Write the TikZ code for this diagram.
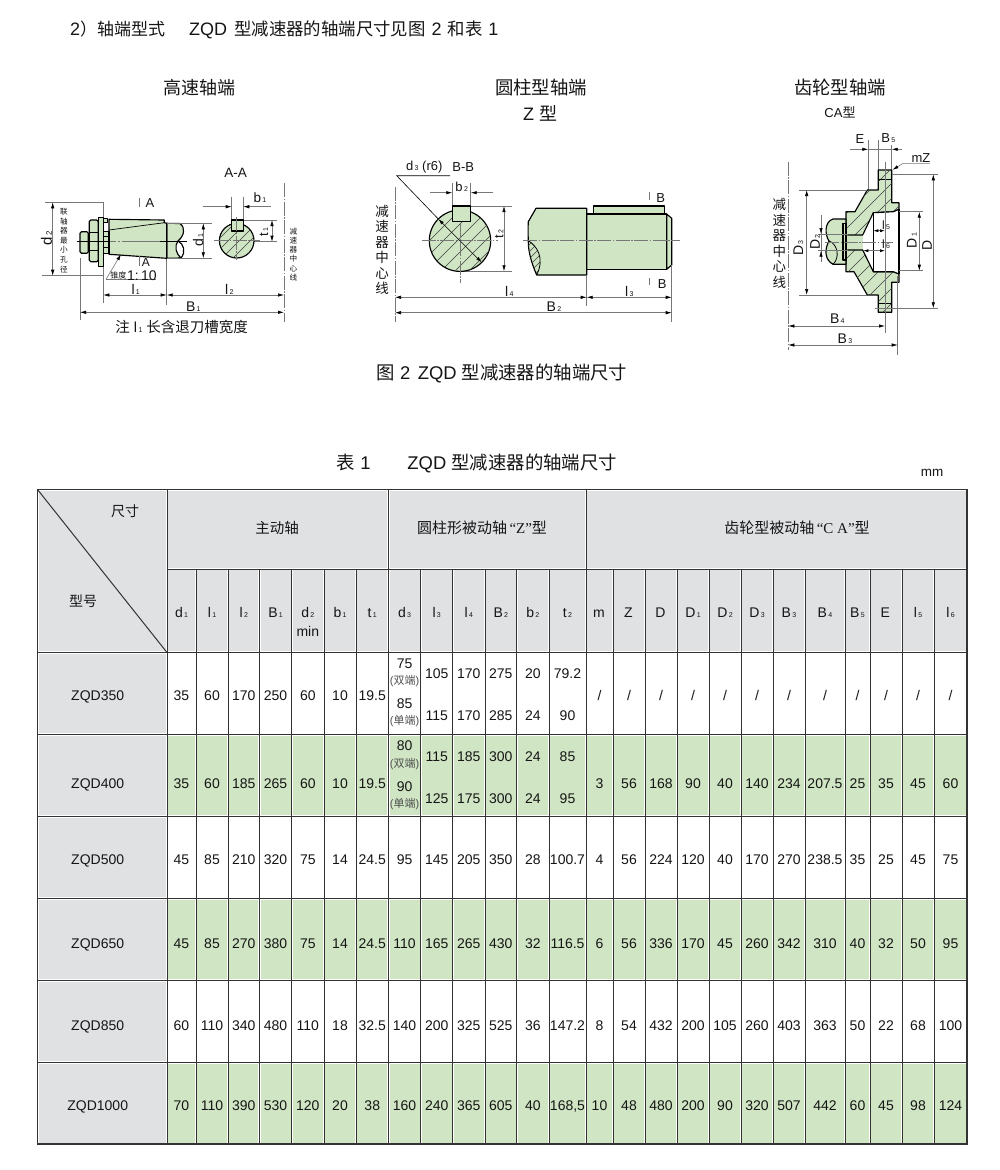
\documentclass[tikz,border=0pt]{standalone}
\usepackage{fontspec}
\setmainfont{Liberation Sans}
\newfontfamily\cjk{Noto Sans CJK SC}
\newfontfamily\serifl{Liberation Serif}
\usetikzlibrary{arrows.meta}
\definecolor{gfill}{HTML}{CFE5C3}
\definecolor{hfill}{HTML}{E0E1E3}
\definecolor{gridc}{HTML}{333333}
\definecolor{dimc}{HTML}{777777}
\definecolor{txtc}{HTML}{151515}
\newcommand\zh[1]{{\cjk #1}}
\newcommand\fsz[1]{\fontsize{#1}{#1}\selectfont}
\newcommand\sbs[2][7]{\kern1.3pt{\fontsize{#1}{#1}\selectfont #2}}
\tikzset{
  tx/.style={inner sep=0pt,text=txtc,font=\fsz{#1}},
  cellt/.style={anchor=base,inner sep=0pt,text=txtc,font=\fsz{14}},
  dimline/.style={draw=dimc,line width=.6pt},
  dimarr/.style={dimline,{Latex[length=6pt,width=3.4pt,color=black]}-{Latex[length=6pt,width=3.4pt,color=black]}},
  dimone/.style={dimline,-{Latex[length=6pt,width=3.4pt,color=black]}},
  axisl/.style={draw=dimc,line width=.6pt,dash pattern=on 14pt off 1.5pt on 1.5pt off 1.5pt},
  outl/.style={draw=black,line width=1.15pt,line join=round},
  hatchl/.style={draw=black!75,line width=.45pt},
  vstk/.style={inner sep=0pt,align=center,text=txtc,font=\cjk\fontsize{#1}{#1}\selectfont},
  gridl/.style={draw=gridc,line width=1pt},
}
\def\colx{{167,196,228,259.5,291.7,324,356,388.5,420.7,452.7,485,516.7,549,586,613,645,677,709,741,773,805,845,870,902,934,967}}
\def\rowy{{652.5,734.5,816.5,898.5,980.5,1062.3,1144}}
\newcommand\colmid[1]{%
  \pgfmathsetmacro\qa{\colx[#1]}\pgfmathsetmacro\qb{\colx[#1+1]}%
  \pgfmathsetmacro\cx{(\qa+\qb)/2}}
\newcommand\hatchlines[5]{%
  \pgfmathsetmacro\hA{#1-(#4-#3)}\pgfmathsetmacro\hB{\hA+#5}%
  \foreach \k in {\hA,\hB,...,#2}{\draw[hatchl] (\k,#4)--({\k+#4-#3},#3);}}
\newcommand\putrow[4]{%
  \foreach \v [count=\cc from #3] in {#4}{%
    \colmid{\cc}%
    \node[cellt] (t#1-\cc) at (\cx,#2) {\v};}}
\begin{document}
\begin{tikzpicture}[x=1pt,y=-1pt]
\useasboundingbox (0,0) rectangle (1000,1170);
\fill[white] (0,0) rectangle (1000,1170);

% ---------- headings
\node[tx=18,anchor=base west] (head) at (70,35) {2{\cjk\fontsize{17}{17}\selectfont ）轴端型式}\hspace{24pt}ZQD\hspace{7pt}{\cjk\fontsize{17.4}{17.4}\selectfont 型减速器的轴端尺寸见图}\hspace{6pt}2\hspace{6pt}{\cjk\fontsize{17.4}{17.4}\selectfont 和表}\hspace{6pt}1};
\node[tx=18] (ti1) at (199.5,88) {\zh{高速轴端}};
\node[tx=18.4] (ti2) at (541,88) {\zh{圆柱型轴端}};
\node[tx=18] (ti2b) at (540,113) {Z \zh{型}};
\node[tx=18.4] (ti3) at (840,88) {\zh{齿轮型轴端}};
\node[tx=13] (ti3b) at (840,112) {CA\zh{型}};
\node[tx=18.4] (fig) at (502,373) {\zh{图} 2\hspace{.4em}ZQD \zh{型减速器的轴端尺寸}};
\node[tx=18.4] (tab) at (477,463) {\zh{表} 1\hspace{2em}ZQD \zh{型减速器的轴端尺寸}};
\node[tx=13.5] (mm) at (932,473) {mm};

% ---------- drawing 1: high-speed shaft end
\node[tx=13.5] (aa) at (235.7,172.7) {A-A};
% dimension lines behind
\draw[dimline] (45,202.3)--(103.3,202.3) (42,275.7)--(103.3,275.7) (103.3,202.3)--(103.3,303);
\draw[dimline] (166.7,258)--(166.7,305) (80,258)--(80,320);
\draw[axisl] (284,183)--(284,321.7);
\draw[dimarr] (52.7,202.3)--(52.7,275.7);
\node[tx=15,rotate=90] (d2l) at (46.5,238) {d\sbs[8]{2}};
\node[vstk=7.6,align=center] (lz) at (64,240.5) {联\\[2pt]轴\\[2pt]器\\[2pt]最\\[2pt]小\\[2pt]孔\\[2pt]径};
\draw[dimarr] (103.3,295)--(166.7,295);
\draw[dimarr] (166.7,295)--(284,295);
\draw[dimarr] (80,312.3)--(284,312.3);
\node[tx=14] (l1l) at (135.7,289.3) {l\sbs{1}};
\node[tx=14] (l2l) at (229.3,289.3) {l\sbs{2}};
\node[tx=14] (b1l) at (193.3,306.7) {B\sbs{1}};
\node[tx=14.5] (note) at (181.7,327.3) {\zh{注} l\sbs{1} \zh{长含退刀槽宽度}};
\node[vstk=7.6] (cl1) at (293.5,254.5) {减\\[1.6pt]速\\[1.6pt]器\\[1.6pt]中\\[1.6pt]心\\[1.6pt]线};
% shaft
\draw[outl,fill=gfill] (166.7,223.3)--(180,223.5) .. controls (186,228) and (184,236) .. (178,241) .. controls (174,246) and (176,254) .. (181,258) -- (166.7,258.3)--cycle;
\draw[outl] (178,241) .. controls (184,244) and (186,252) .. (181,258);
\draw[outl,fill=gfill] (109,219.3)--(164.3,220)--(164.3,222.7)--(166.7,223.3)--(166.7,258.3)--(109,254.3)--cycle;
\draw[outl,line width=.7pt] (109,230)--(164.3,222.7);
\draw[outl,fill=gfill] (103.3,231.7)rectangle(109,253.3);
\draw[line width=.6pt] (103.3,236)--(109,236) (103.3,247)--(109,247);
\draw[outl,fill=gfill] (103.3,218.3)rectangle(107.3,222.7);
\draw[outl,fill=gfill,rounded corners=1.5pt] (80,231.7)rectangle(88.3,253.3);
\draw[outl,fill=gfill,rounded corners=1.5pt] (89.3,220)rectangle(98.3,261.7);
\draw[line width=.6pt] (89.3,232)--(98.3,232) (89.3,250)--(98.3,250);
\draw[outl,fill=gfill] (98.3,217.7)rectangle(103.3,266.7);
\draw[line width=1pt] (76.7,241.7)--(110,241.7);
\draw[dimline] (110,241.7)--(116,241.7) (118,241.7)--(120,241.7) (122,241.7)--(160,241.7);
\draw[line width=.8pt] (160,241.7)--(186.7,241.7);
% A ticks
\draw[dimline] (139.3,197.7)--(139.3,207) (139.3,256)--(139.3,266);
\node[tx=13] (aup) at (150,202.7) {A};
\node[tx=12] (adn) at (146,262.5) {A};
% taper
\draw[dimone] (106,279.3)--(121,254.3);
\draw[dimline] (106,279.3)--(156,279.3);
\node[vstk=8] (zd) at (118.3,275) {锥度};
\node[tx=14] (ratio) at (142,275.5) {1:\,10};
% section A-A
\draw[dimline] (231.7,196.7)--(231.7,221.7) (243.3,196.7)--(243.3,221.7);
\draw[dimone] (203.3,206.7)--(231.7,206.7);
\draw[dimone] (270.7,206.7)--(243.3,206.7);
\node[tx=13.5] (b1s) at (260,197.7) {b\sbs{1}};
\draw[dimline] (243,220)--(276.7,220) (247,241.7)--(276.7,241.7);
\draw[dimarr] (272,220)--(272,241.7);
\node[tx=13,rotate=90] (t1s) at (264,231.7) {t\sbs{1}};
\draw[outl,fill=gfill] (236.7,240.7) circle (17.3pt);
\begin{scope}
  \clip (236.7,240.7) circle (17.3pt);
  \hatchlines{214}{262}{222}{260}{11}
\end{scope}
\draw[outl,fill=gfill] (231.7,220)rectangle(243.3,231);
\draw[axisl] (214,240.7)--(260,240.7);
\draw[axisl] (236.7,217)--(236.7,260);
% d1
\draw[dimline] (166.7,223.3)--(211.7,223.3) (166.7,258.3)--(211.7,258.3);
\draw[dimarr] (203.3,223.3)--(203.3,258.3);
\node[tx=14,rotate=90] (d1l) at (198,240) {d\sbs{1}};

% ---------- drawing 2: cylindrical shaft end
\node[tx=13] (d3r) at (424.3,166.7) {d\sbs{3} (r6)};
\node[tx=13] (bb) at (463.3,167) {B-B};
\node[vstk=13.5] (cl2) at (382,250) {减\\[2pt]速\\[2pt]器\\[2pt]中\\[2pt]心\\[2pt]线};
\draw[axisl] (395,186.7)--(395,321.7);
\draw[dimline] (452.3,183.3)--(452.3,206) (470.7,183.3)--(470.7,206);
\draw[dimone] (430,192.7)--(452.3,192.7);
\draw[dimone] (493.3,192.7)--(470.7,192.7);
\node[tx=13] (b2l) at (461.7,186.7) {b\sbs{2}};
\draw[dimline] (470.7,206)--(511.7,206) (460,271.3)--(511.7,271.3);
\draw[dimarr] (504,206)--(504,271.3);
\node[tx=13,rotate=90] (t2l) at (499.3,234.3) {t\sbs{2}};
\draw[outl,fill=gfill] (460,240.7) circle (30.7pt);
\begin{scope}
  \clip (460,240.7) circle (30.7pt);
  \hatchlines{420}{505}{208}{273}{14}
\end{scope}
\draw[axisl] (421.7,240.7)--(498.3,240.7);
\draw[axisl] (460.7,205)--(460.7,283.3);
\draw[outl,fill=gfill] (452.3,206)rectangle(470.7,221.3);
\draw[line width=.6pt] (450,175.7)--(396.7,175.7)--(438.3,219);
\draw[line width=.6pt,{Latex[length=6pt,width=3.4pt,color=black]}-{Latex[length=6pt,width=3.4pt,color=black]}] (438.3,219)--(481.7,262.4);
% shaft
\draw[outl,fill=gfill] (593.3,206)rectangle(664.3,214);
\draw[outl,fill=gfill] (666.7,214)--(671.7,218.3)--(671.7,265)--(666.7,269.3)--cycle;
\draw[outl,fill=gfill] (586.7,214)rectangle(666.7,269.3);
\draw[outl,fill=gfill] (536,208.3)--(586.7,208.3)--(586.7,275)--(536.7,275) .. controls (531,262) and (528,250) .. (528.3,240.7) .. controls (528,233) and (528,228) .. (528.3,221.7)--cycle;
\begin{scope}
  \clip (528.3,240.7) .. controls (537,246) and (545,258) .. (536.7,275) .. controls (531,262) and (528,250) .. (528.3,240.7);
  \hatchlines{520}{545}{240}{276}{7}
\end{scope}
\draw[outl,line width=.8pt] (528.3,240.7) .. controls (537,246) and (545,258) .. (536.7,275);
\draw[axisl] (523.3,240.7)--(680,240.7);
\draw[dimline] (649.3,191.7)--(649.3,200) (649.3,278.3)--(649.3,285);
\node[tx=13] (bup) at (660.7,198.3) {B};
\node[tx=13] (bdn) at (662.3,284) {B};
\draw[dimline] (586.7,275)--(586.7,306) (671.7,265)--(671.7,321.7);
\draw[dimarr] (395,297.3)--(586.7,297.3);
\draw[dimarr] (586.7,297.3)--(671.7,297.3);
\draw[dimarr] (395,312.7)--(671.7,312.7);
\node[tx=14] (l4l) at (509.3,291) {l\sbs{4}};
\node[tx=14] (l3l) at (629.3,291) {l\sbs{3}};
\node[tx=14] (b2d) at (554,306.7) {B\sbs{2}};

% ---------- drawing 3: gear shaft end
\node[tx=13] (el) at (860,139) {E};
\node[tx=13] (b5l) at (888.3,138.3) {B\sbs{5}};
\node[tx=13] (mzl) at (921,157.7) {mZ};
\node[vstk=13.5] (cl3) at (779.3,243.5) {减\\[2pt]速\\[2pt]器\\[2pt]中\\[2pt]心\\[2pt]线};
\draw[axisl] (788.3,161.7)--(788.3,350);
\draw[dimline] (868.3,140)--(868.3,190) (878.3,140)--(878.3,170) (891.7,145)--(891.7,170);
\draw[dimone] (850,149.3)--(868.3,149.3);
\draw[dimline] (868.3,149.3)--(891.7,149.3);
\draw[dimone] (902,149.3)--(891.7,149.3);
% body
\def\bodypath{(878.3,170)--(891.7,170)--(891.7,202.7)--(899,202.7)--(899,209.3)--(893.3,211.7)--(873.3,212.7)--(873.3,271.7)--(893.3,271.7)--(899,274)--(899,282.3)--(891.7,282.3)--(891.7,312.3)--(878.3,312.3)--(878.3,295)--(867.3,295)--(854,271.7)--(846,271.7)--(846,211.7)--(855,211.7)--(867.3,190)--(878.3,190)--cycle}
\draw[outl,fill=gfill] \bodypath;
\begin{scope}
  \clip \bodypath;
  \hatchlines{835}{900}{165}{316}{15}
\end{scope}
\fill[white] (873.3,212.7)--(893.3,211.7)--(899,209.3)--(899,274)--(893.3,271.7)--(873.3,271.7)--(862.7,250)--(862.7,235)--cycle;
\fill[gfill] (848,235)rectangle(862.7,250);
\draw[outl] (899,209.3)--(893.3,211.7)--(873.3,212.7)--(862.7,235)--(847.3,235);
\draw[outl] (899,274)--(893.3,271.7)--(873.3,271.7)--(862.7,250)--(847.3,250);
\draw[outl] (873.3,212.7)--(873.3,271.7);
\draw[outl] (899,209.3)--(899,274);
\draw[outl] (878.3,179.3)--(891.7,179.3) (878.3,303.3)--(891.7,303.3);
% shaft stub
\draw[outl,fill=gfill] (846,219)--(833,219) .. controls (824,222) and (825,235) .. (829,241) .. controls (824,250) and (825,260) .. (833,264.3)--(846,264.3)--cycle;
\draw[outl,line width=.8pt] (829,241) .. controls (838,244) and (840,258) .. (833,264.3);
\draw[outl,fill=gfill] (843,223.3)rectangle(846,260);
\draw[axisl] (825,242)--(893,242);
\draw[dimline] (885,161.7)--(885,333.3);
% mZ
\draw[dimline,{Latex[length=6pt,width=3.4pt,color=black]}-] (892.5,169.8)--(903.3,163.3)--(930,163.3);
% D
\draw[dimline] (891.7,174.3)--(938.3,174.3) (875,308.3)--(938.3,308.3);
\draw[dimarr] (933.3,174.3)--(933.3,308.3);
\node[tx=14,rotate=90] (dl) at (927,245) {D};
% D1
\draw[dimline] (899,211.7)--(923.3,211.7) (899,270.7)--(923.3,270.7);
\draw[dimarr] (919.3,211.7)--(919.3,270.7);
\node[tx=14,rotate=90] (d1g) at (911.7,240.7) {D\sbs{1}};
% D2
\draw[dimline] (821,215)--(821,261.7) (818,234)--(848,234) (818,250.7)--(848,250.7);
\draw[dimone] (821,224)--(821,234);
\draw[dimone] (821,260.7)--(821,250.7);
\node[tx=14,rotate=90] (d2g) at (815,242.3) {D\sbs{2}};
% D3
\draw[dimline] (799.3,190)--(867.3,190) (799.3,295)--(867.3,295);
\draw[dimarr] (806.7,190)--(806.7,295);
\node[tx=14,rotate=90] (d3g) at (798.3,248.3) {D\sbs{3}};
% B4 B3
\draw[dimarr] (788.3,326)--(885,326);
\draw[dimline] (897.7,276)--(897.7,355);
\draw[dimarr] (788.3,345)--(897.7,345);
\node[tx=14] (b4l) at (837.3,318.3) {B\sbs{4}};
\node[tx=14] (b3l) at (845,338.3) {B\sbs{3}};
% l5 l6
\draw[dimline,{Latex[length=5pt,width=3pt,color=black]}-{Latex[length=5pt,width=3pt,color=black]}] (873.3,230.7)--(885,230.7);
\draw[dimline,{Latex[length=5pt,width=3pt,color=black]}-{Latex[length=5pt,width=3pt,color=black]}] (863.3,250.7)--(885,250.7);
\node[tx=12] (l5g) at (886,225) {l\sbs{5}};
\node[tx=12] (l6g) at (886,244) {l\sbs{6}};

% ---------- table fills
\fill[hfill] (38.7,490.7)rectangle(165.8,651.3);
\fill[hfill] (168.2,490.7)rectangle(387.3,567.8);
\fill[hfill] (389.7,490.7)rectangle(584.8,567.8);
\fill[hfill] (587.2,490.7)rectangle(965.8,567.8);
\foreach \cc in {0,...,24}{
  \pgfmathsetmacro\xa{\colx[\cc]+1.2}
  \pgfmathsetmacro\xb{\colx[\cc+1]-1.2}
  \fill[hfill] (\xa,570.2)rectangle(\xb,651.3);
  \foreach \rr in {1,3,5}{
    \pgfmathsetmacro\ya{\rowy[\rr]+1.2}
    \pgfmathsetmacro\yb{\rowy[\rr+1]-1.2}
    \fill[gfill] (\xa,\ya)rectangle(\xb,\yb);
  }
}
\foreach \rr in {0,...,5}{
  \pgfmathsetmacro\ya{\rowy[\rr]+1.2}
  \pgfmathsetmacro\yb{\rowy[\rr+1]-1.2}
  \fill[hfill] (38.7,\ya)rectangle(165.8,\yb);
}
% ---------- table grid
\foreach \cc in {1,...,24}{
  \pgfmathsetmacro\xa{\colx[\cc]}
  \draw[gridl] (\xa,569)--(\xa,1144);
}
\draw[gridl] (167,489.5)--(167,1144) (388.5,489.5)--(388.5,569) (586,489.5)--(586,569);
\draw[gridl] (167,569)--(967,569);
\foreach \rr in {0,...,5}{
  \pgfmathsetmacro\ya{\rowy[\rr]}
  \draw[gridl] (37.5,\ya)--(967,\ya);
}
\draw[gridc,line width=1pt] (37.5,489.5)--(167,652.5);
\draw[gridc,line width=1.8pt] (37.5,489.5)rectangle(967,1144);
% ---------- table text
\node[tx=14] (hsize) at (125,511) {\zh{尺寸}};
\node[tx=14] (hmodel) at (83,601) {\zh{型号}};
\node[tx=14.5] (hmain) at (277,528) {\zh{主动轴}};
\node[tx=15] (hz) at (482,528) {\zh{圆柱形被动轴}{\serifl\,“Z”}\zh{型}};
\node[tx=15] (hca) at (797,528) {\zh{齿轮型被动轴}{\serifl\,“C A”}\zh{型}};
\foreach \lta/\ltb [count=\cc from 0] in {d/1,l/1,l/2,B/1,d/2,b/1,t/1,d/3,l/3,l/4,B/2,b/2,t/2,m/{},Z/{},D/{},D/1,D/2,D/3,B/3,B/4,B/5,E/{},l/5,l/6}{
  \colmid{\cc}
  \node[cellt] (h\cc) at (\cx,617.5) {\lta\sbs{\ltb}};
}
\node[cellt] (hmin) at (307.8,636.5) {min};
\node[cellt] (z1) at (97.7,700) {ZQD350};
\node[cellt] (z2) at (97.7,788) {ZQD400};
\node[cellt] (z3) at (97.7,864) {ZQD500};
\node[cellt] (z4) at (97.7,948) {ZQD650};
\node[cellt] (z5) at (97.7,1030) {ZQD850};
\node[cellt] (z6) at (97.7,1110) {ZQD1000};
\putrow{a}{700}{0}{35,60,170,250,60,10,19.5}
\putrow{a}{700}{13}{/,/,/,/,/,/,/,/,/,/,/,/}
\putrow{b}{788}{0}{35,60,185,265,60,10,19.5}
\putrow{b}{788}{13}{3,56,168,90,40,140,234,207.5,25,35,45,60}
\putrow{c}{864}{0}{45,85,210,320,75,14,24.5,95,145,205,350,28,100.7,4,56,224,120,40,170,270,238.5,35,25,45,75}
\putrow{d}{948}{0}{45,85,270,380,75,14,24.5,110,165,265,430,32,116.5,6,56,336,170,45,260,342,310,40,32,50,95}
\putrow{e}{1030}{0}{60,110,340,480,110,18,32.5,140,200,325,525,36,147.2,8,54,432,200,105,260,403,363,50,22,68,100}
\putrow{f}{1110}{0}{70,110,390,530,120,20,38,160,240,365,605,40,{168,5},10,48,480,200,90,320,507,442,60,45,98,124}
\putrow{a1}{678}{8}{105,170,275,20,79.2}
\putrow{a2}{720}{8}{115,170,285,24,90}
\putrow{b1}{761}{8}{115,185,300,24,85}
\putrow{b2}{803}{8}{125,175,300,24,95}
\tikzset{dbl/.style={inner sep=0pt,text=txtc!75,font=\fsz{11}}}
\node[cellt] (v75) at (404.6,668) {75};
\node[dbl] (v75b) at (404.6,681) {(\zh{双端})};
\node[cellt] (v85) at (404.6,708) {85};
\node[dbl] (v85b) at (404.6,721.5) {(\zh{单端})};
\node[cellt] (v80) at (404.6,750) {80};
\node[dbl] (v80b) at (404.6,764) {(\zh{双端})};
\node[cellt] (v90) at (404.6,791) {90};
\node[dbl] (v90b) at (404.6,804) {(\zh{单端})};
\end{tikzpicture}
\end{document}
